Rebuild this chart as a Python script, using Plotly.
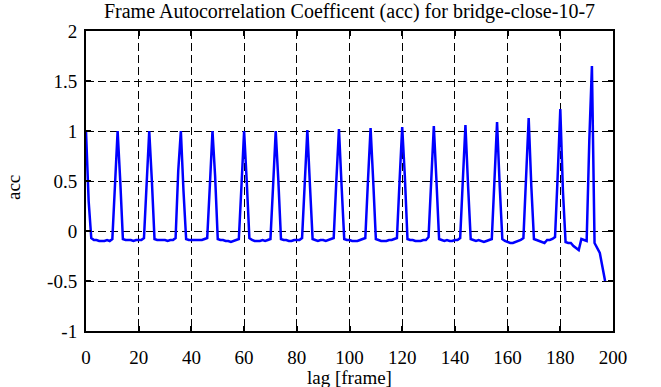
import plotly.graph_objects as go

# lag values (frames)
lags = list(range(198))

# autocorrelation coefficient per lag (rows of 12 lags)
acc = [
    1.00, 0.30, -0.07, -0.09, -0.09, -0.10, -0.10, -0.10, -0.09, -0.10, -0.08, 0.40,   # 0-11
    1.00, 0.50, -0.08, -0.09, -0.09, -0.09, -0.10, -0.09, -0.09, -0.09, -0.07, 0.45,   # 12-23
    1.00, 0.50, -0.08, -0.09, -0.09, -0.09, -0.09, -0.10, -0.09, -0.09, -0.07, 0.60,   # 24-35
    1.00, 0.40, -0.08, -0.09, -0.09, -0.09, -0.09, -0.09, -0.09, -0.08, -0.07, 0.45,   # 36-47
    1.00, 0.55, -0.08, -0.09, -0.09, -0.10, -0.10, -0.11, -0.10, -0.09, -0.08, 0.45,   # 48-59
    1.00, 0.50, -0.07, -0.09, -0.10, -0.10, -0.10, -0.09, -0.10, -0.09, -0.08, 0.45,   # 60-71
    1.00, 0.50, -0.08, -0.09, -0.09, -0.10, -0.10, -0.09, -0.09, -0.09, -0.07, 0.45,   # 72-83
    1.01, 0.45, -0.08, -0.09, -0.10, -0.09, -0.09, -0.10, -0.09, -0.08, -0.07, 0.50,   # 84-95
    1.02, 0.45, -0.08, -0.09, -0.09, -0.10, -0.10, -0.10, -0.09, -0.08, -0.07, 0.50,   # 96-107
    1.03, 0.50, -0.08, -0.09, -0.10, -0.10, -0.10, -0.09, -0.09, -0.08, -0.07, 0.50,   # 108-119
    1.04, 0.55, -0.08, -0.09, -0.09, -0.10, -0.10, -0.10, -0.09, -0.09, -0.06, 0.45,   # 120-131
    1.05, 0.50, -0.08, -0.09, -0.10, -0.09, -0.10, -0.10, -0.09, -0.09, -0.07, 0.50,   # 132-143
    1.06, 0.45, -0.08, -0.09, -0.10, -0.09, -0.10, -0.11, -0.10, -0.09, -0.08, 0.50,   # 144-155
    1.09, 0.45, -0.08, -0.10, -0.11, -0.12, -0.12, -0.11, -0.10, -0.09, -0.07, 0.55,   # 156-167
    1.13, 0.45, -0.08, -0.09, -0.10, -0.11, -0.12, -0.09, -0.09, -0.08, -0.06, 0.55,   # 168-179
    1.22, 0.40, -0.11, -0.12, -0.12, -0.15, -0.17, -0.19, -0.08, -0.09, -0.10, 0.90,   # 180-191
    1.65, -0.12, -0.17, -0.22, -0.36, -0.50,                                           # 192-197
]

x_ticks = [0, 20, 40, 60, 80, 100, 120, 140, 160, 180, 200]
x_tick_labels = ["0", "20", "40", "60", "80", "100", "120", "140", "160", "180", "200"]
y_ticks = [-1, -0.5, 0, 0.5, 1, 1.5, 2]
y_tick_labels = ["-1", "-0.5", "0", "0.5", "1", "1.5", "2"]

title_text = "Frame Autocorrelation Coefficent (acc) for bridge-close-10-7"
x_label = "lag [frame]"
y_label = "acc"

FONT = "Liberation Serif"

fig = go.Figure()
fig.add_trace(go.Scatter(
    x=lags, y=acc, mode="lines",
    line=dict(color="#0000ff", width=2.5),
    showlegend=False, hoverinfo="skip",
))

axis_common = dict(
    showline=True, linecolor="black", linewidth=2, mirror="ticks",
    ticks="inside", ticklen=5, tickwidth=2, tickcolor="black",
    showgrid=True, gridcolor="black", gridwidth=1, griddash="8px,4px",
    zeroline=False, automargin=False,
    tickfont=dict(family=FONT, size=19, color="black"),
)

fig.update_xaxes(range=[0, 200], tickvals=x_ticks, ticktext=x_tick_labels,
                 ticklabelstandoff=8, **axis_common)
fig.update_yaxes(range=[-1, 2], tickvals=y_ticks, ticktext=y_tick_labels,
                 ticklabelstandoff=3, **axis_common)

fig.update_layout(
    width=661, height=387,
    margin=dict(l=86, r=48, t=31, b=56),
    paper_bgcolor="white", plot_bgcolor="white",
    font=dict(family=FONT, size=19, color="black"),
    title=dict(text=title_text, x=0.5, xref="paper", y=1 - 11 / 387,
               yref="container", xanchor="center", yanchor="middle",
               font=dict(family=FONT, size=20, color="black")),
    annotations=[
        dict(text=x_label, xref="paper", yref="paper", x=0.5, y=-(377 - 331) / 300,
             xanchor="center", yanchor="middle", showarrow=False,
             font=dict(family=FONT, size=19, color="black")),
        dict(text=y_label, xref="paper", yref="paper", x=(13 - 86) / 527, y=(331 - 188) / 300,
             xanchor="center", yanchor="middle", showarrow=False, textangle=-90,
             font=dict(family=FONT, size=19, color="black")),
    ],
)

fig.write_html(
    "out.html",
    config={"displayModeBar": False, "staticPlot": True},
    post_script="document.body.style.margin='0px';document.body.style.overflow='hidden';",
)
